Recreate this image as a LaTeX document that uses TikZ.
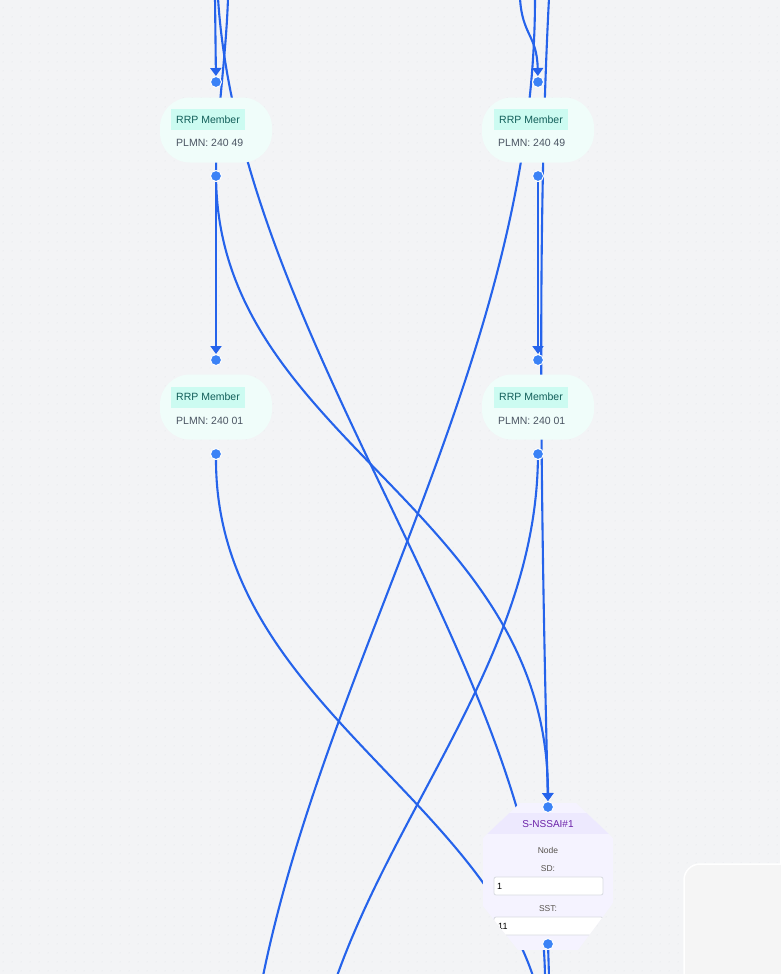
\documentclass[tikz,border=0pt]{standalone}
\usepackage{fontspec}
\setmainfont{Liberation Sans}
\usetikzlibrary{arrows.meta,patterns.meta}
\definecolor{bgc}{HTML}{F3F4F6}
\definecolor{edgec}{HTML}{2563EB}
\definecolor{dotc}{HTML}{3B82F6}
\definecolor{rrpfill}{HTML}{F0FDFA}
\definecolor{tagfill}{HTML}{CCFBF1}
\definecolor{tagtext}{HTML}{115E59}
\definecolor{plmntext}{HTML}{4B5563}
\definecolor{sfill}{HTML}{F5F3FF}
\definecolor{shead}{HTML}{EDE9FE}
\definecolor{stext}{HTML}{6B21A8}
\definecolor{inborder}{HTML}{D9DCE1}
\definecolor{panelc}{HTML}{F5F5F5}
\definecolor{gridc}{HTML}{DDE0E5}
\definecolor{smalltext}{HTML}{57534E}
\pgfdeclarelayer{bg}\pgfdeclarelayer{edges}\pgfsetlayers{bg,edges,main}
\tikzdeclarepattern{name=dotgrid, type=uncolored, bottom left={(0pt,0pt)}, top right={(9pt,9pt)}, tile size={(9pt,9pt)}, code={\fill (4.5pt,4.5pt) circle (0.55pt);}}
\tikzset{
  rrpbox/.style={rectangle, rounded corners=30pt, fill=rrpfill, minimum width=112pt, minimum height=65pt, inner sep=0pt},
  tagbox/.style={rectangle, fill=tagfill, text=tagtext, font=\fontsize{10.5}{12}\selectfont, minimum width=74pt, minimum height=21pt, inner sep=0pt},
  plmn/.style={text=plmntext, font=\fontsize{10.5}{12}\selectfont, inner sep=0pt, anchor=west},
  port/.style={circle, fill=dotc, draw=white, line width=1pt, minimum size=11pt, inner sep=0pt},
  link/.style={draw=edgec, line width=2.1pt},
  arr/.style={link, -{Triangle[length=8pt,width=11pt]}},
  small/.style={text=smalltext, font=\fontsize{8.5}{10}\selectfont, inner sep=0pt},
  inbox/.style={rectangle, fill=white, draw=inborder, line width=0.8pt, rounded corners=2pt, minimum width=109pt, minimum height=18pt, inner sep=0pt},
  intext/.style={font=\fontsize{9}{10}\selectfont, inner sep=0pt, anchor=west, text=black}
}
\begin{document}
\begin{tikzpicture}[x=1pt,y=-1pt]
\useasboundingbox (0,0) rectangle (780,974);
\begin{pgfonlayer}{bg}
\fill[bgc] (0,0) rectangle (780,974);
\fill[pattern=dotgrid, pattern color=gridc] (0,0) rectangle (780,974);
\end{pgfonlayer}

% RRP member nodes
\node[rrpbox] (L1) at (216,130) {};
\node[tagbox] (L1t) at (208,119.5) {RRP Member};
\node[plmn] (L1p) at (176,143) {PLMN: 240 49};
\node[rrpbox] (R1) at (538,130) {};
\node[tagbox] (R1t) at (531,119.5) {RRP Member};
\node[plmn] (R1p) at (498,143) {PLMN: 240 49};
\node[rrpbox] (L2) at (216,407) {};
\node[tagbox] (L2t) at (208,397) {RRP Member};
\node[plmn] (L2p) at (176,421) {PLMN: 240 01};
\node[rrpbox] (R2) at (538,407) {};
\node[tagbox] (R2t) at (531,397) {RRP Member};
\node[plmn] (R2p) at (498,421) {PLMN: 240 01};

% S-NSSAI node
\begin{scope}
\path[clip] (520,803) -- (576,803) -- (613,838) -- (613,903) -- (578,950) -- (518,950) -- (483,906) -- (483,838) -- cycle;
\fill[sfill] (483,803) rectangle (613,950);
\fill[shead] (483,813) rectangle (613,834);
\node[inbox] (SDin) at (548.5,886) {};
\node[inbox] (SSTin) at (548.5,926) {};
\node[intext] (SDv) at (497,886.5) {1};
\node[intext] (SSTv) at (498,926.5) {11};
\end{scope}
\node[text=stext, font=\fontsize{10}{12}\selectfont, inner sep=0pt] (Sh) at (548,824) {S-NSSAI\#1};
\node[small] (Sn) at (548,850.5) {Node};
\node[small] (Ssd) at (548,868.5) {SD:};
\node[small] (Ssst) at (548,908.5) {SST:};

% panel
\draw[white, line width=1.5pt, fill=panelc, rounded corners=16pt] (684,864) rectangle (800,1000);

% ports
\node[port] (L1in) at (216,82) {};
\node[port] (L1out) at (216,176) {};
\node[port] (L2in) at (216,360) {};
\node[port] (L2out) at (216,454) {};
\node[port] (R1in) at (538,82) {};
\node[port] (R1out) at (538,176) {};
\node[port] (R2in) at (538,360) {};
\node[port] (R2out) at (538,454) {};
\node[port] (Sin) at (548,807) {};
\node[port] (Sout) at (548,944) {};

% free ends
\coordinate (tA) at (215,-2);
\coordinate (tB) at (218,-2);
\coordinate (tC) at (228,-2);
\coordinate (tF) at (520,-2);
\coordinate (tG) at (535,-2);
\coordinate (tH) at (549,-2);
\coordinate (bB) at (545,976);
\coordinate (bE) at (533,976);
\coordinate (bG) at (263,976);
\coordinate (bJ) at (337,976);
\coordinate (bK) at (549,976);

\begin{pgfonlayer}{edges}
\draw[arr] (tA) -- (L1in);
\draw[link] (tB) .. controls (240,340) and (540,670) .. (bB);
\draw[link] (tC) .. controls (226,60) and (216,120) .. (L1out.center);
\draw[arr] (L1out) -- (L2in);
\draw[arr] (L1out) .. controls (222,440) and (548,510) .. (Sin);
\draw[link] (L2out) .. controls (216,690) and (470,790) .. (bE);
\draw[arr] (tF) .. controls (522,35) and (537,35) .. (R1in);
\draw[link] (tG) .. controls (535,350) and (330,650) .. (bG);
\draw[arr] (tH) .. controls (536,250) and (542,550) .. (Sin);
\draw[arr] (R1out) -- (R2in);
\draw[link] (R2out) .. controls (535,650) and (400,800) .. (bJ);
\draw[link] (Sout) -- (bK);
\end{pgfonlayer}
\end{tikzpicture}
\end{document}
